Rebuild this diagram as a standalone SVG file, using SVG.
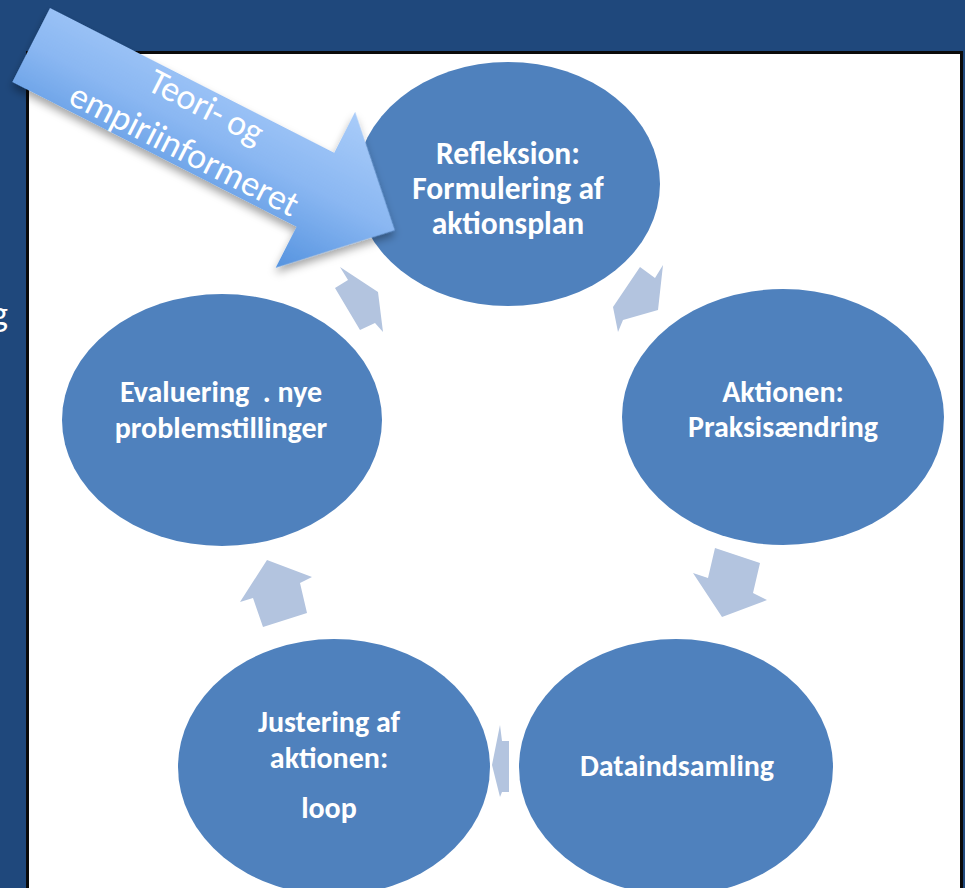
<svg xmlns="http://www.w3.org/2000/svg" width="965" height="888" viewBox="0 0 965 888">
<defs>
<style>
.node{fill:#4f81bd}
.lbl{fill:#ffffff;font-family:Carlito,Lato,"Open Sans",sans-serif;font-weight:bold;font-size:30px;text-anchor:middle}
.lbl.top{font-size:31.5px}
.conn{fill:#b3c4df}
.big{fill:#ffffff;font-family:Carlito,Lato,"Open Sans",sans-serif;font-size:36px;text-anchor:middle}
</style>
<linearGradient id="bg" gradientUnits="userSpaceOnUse" x1="0" y1="-46" x2="0" y2="129">
<stop offset="0" stop-color="#a9ccf9"/>
<stop offset="0.5" stop-color="#8ab7f2"/>
<stop offset="1" stop-color="#5593df"/>
</linearGradient>
<filter id="sh" x="-10%" y="-10%" width="130%" height="140%">
<feDropShadow dx="2" dy="5" stdDeviation="4" flood-color="#000" flood-opacity="0.35"/>
</filter>
</defs>
<rect x="0" y="0" width="965" height="888" fill="#1f487c"/>
<text x="-9" y="326" fill="#ffffff" font-family="Carlito,Lato,'Open Sans',sans-serif" font-size="36">g</text>
<rect x="27.5" y="52.5" width="934" height="840" fill="#ffffff" stroke="#0a0a0a" stroke-width="3"/>
<g id="connectors">
<polygon class="conn" points="340,267 348,280 335,288 360,330 375,323 383,332 378,292"/>
<polygon class="conn" points="640,267 655,278 663,265 658,310 623,320 618,332 613,307"/>
<polygon class="conn" points="715,548 760,563 753,593 767,600 722,617 693,573 708,578"/>
<polygon class="conn" points="500,725 502,741 509,741 509,792 502,792 500,797 492,765"/>
<polygon class="conn" points="267,560 312,577 300,583 307,613 263,627 253,598 240,602"/>
</g>
<g id="n1">
<ellipse class="node" cx="508" cy="184" rx="152" ry="122"/>
<text class="lbl top" x="508" y="164">Refleksion:</text>
<text class="lbl top" x="508" y="199">Formulering af</text>
<text class="lbl top" x="508" y="234">aktionsplan</text>
</g>
<g id="n2">
<ellipse class="node" cx="783" cy="417" rx="161" ry="128"/>
<text class="lbl" x="783" y="402">Aktionen:</text>
<text class="lbl" x="783" y="437">Praksisændring</text>
</g>
<g id="n3">
<ellipse class="node" cx="676" cy="767" rx="157" ry="128"/>
<text class="lbl" x="677" y="776">Dataindsamling</text>
</g>
<g id="n4">
<ellipse class="node" cx="334" cy="767" rx="156" ry="128"/>
<text class="lbl" x="329" y="732">Justering af</text>
<text class="lbl" x="329" y="768">aktionen:</text>
<text class="lbl" x="329" y="818">loop</text>
</g>
<g id="n5">
<ellipse class="node" cx="222" cy="420" rx="160" ry="126"/>
<text class="lbl" x="221" y="402" xml:space="preserve">Evaluering  . nye</text>
<text class="lbl" x="221" y="438">problemstillinger</text>
</g>
<g id="input-arrow" transform="translate(50,8) rotate(27)">
<polygon points="0,0 319,0 319,-46 408,41.5 319,129 319,83 0,83" fill="url(#bg)" filter="url(#sh)"/>
<text class="big" x="184" y="29" textLength="124">Teori- og</text>
<text class="big" x="184" y="77" textLength="252">empiriinformeret</text>
</g>
</svg>
